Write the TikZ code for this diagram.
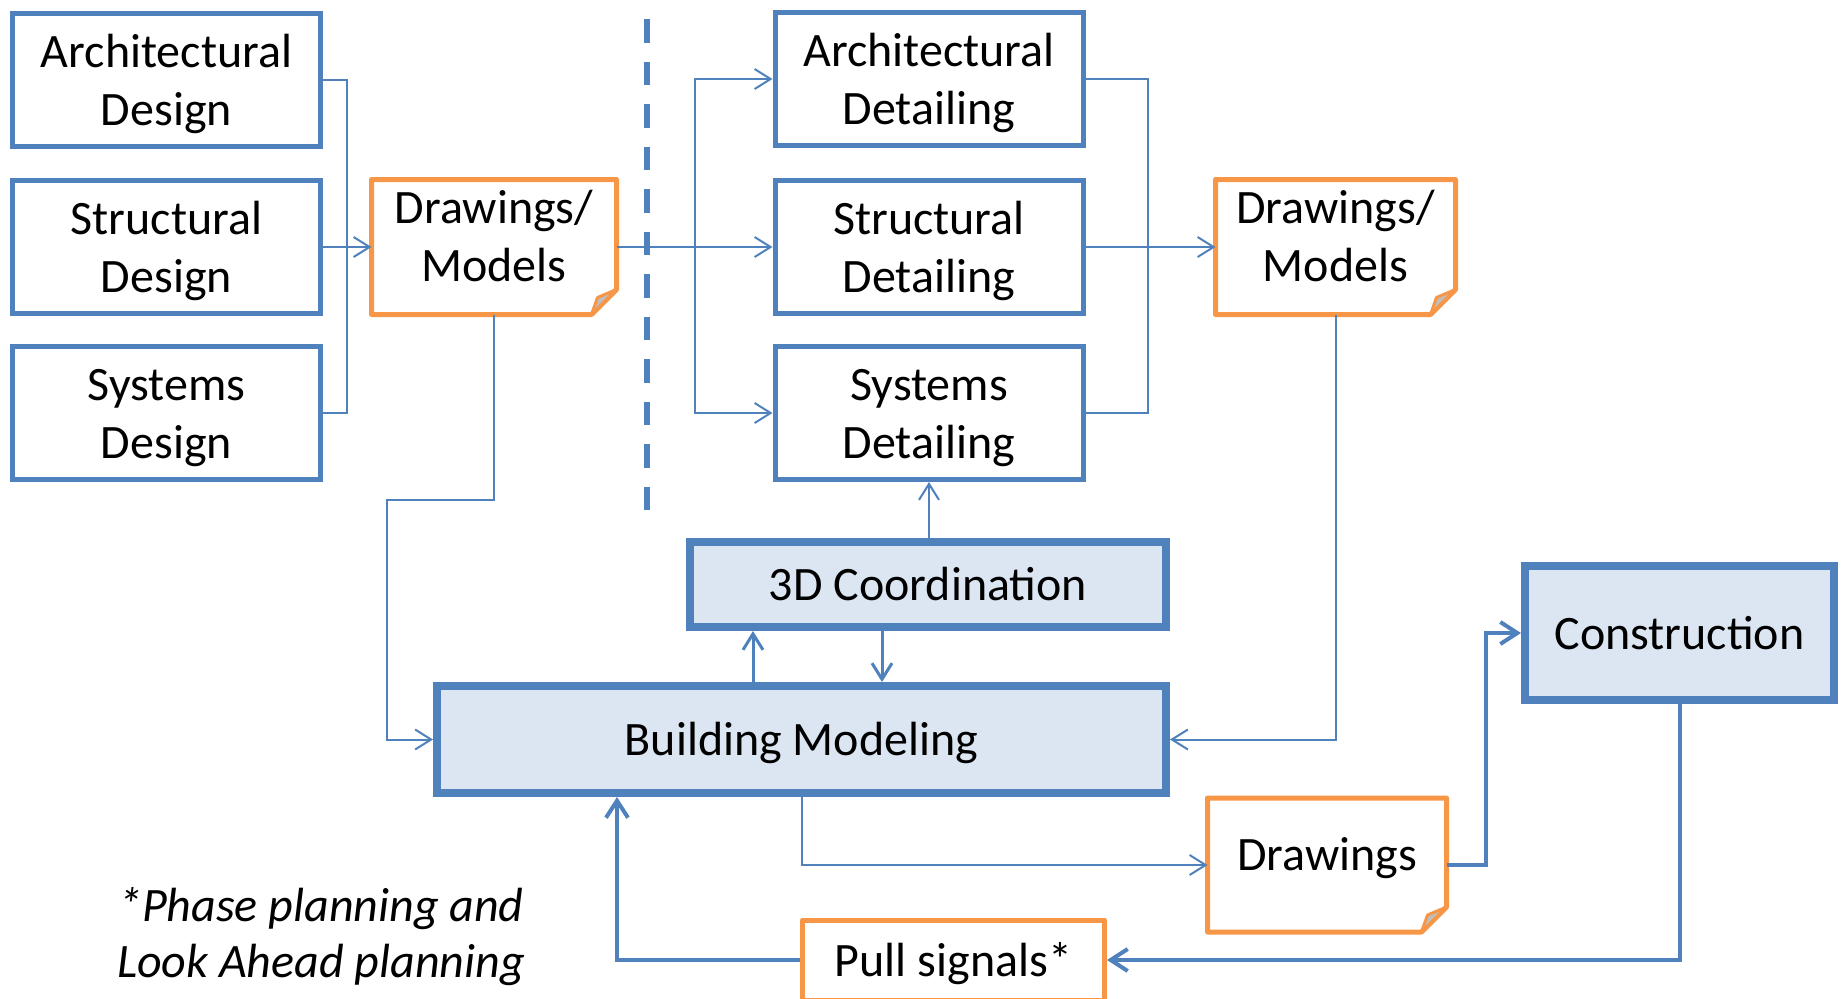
\documentclass[tikz,border=0pt]{standalone}
\usepackage{fontspec}
\setmainfont{Carlito}
\usetikzlibrary{arrows.meta}

\definecolor{boxblue}{HTML}{4F81BD}
\definecolor{docorange}{HTML}{F79646}
\definecolor{boxfill}{HTML}{DCE6F2}
\definecolor{foldgrey}{HTML}{BFBFBF}

% line struts: one for plain boxes, one for document shapes (text sits higher)
\newcommand{\tstrut}{\rule[-6.45pt]{0pt}{29pt}}
\newcommand{\dstrut}{\rule[-11.75pt]{0pt}{29pt}}

% document outline with a folded bottom-right corner
\newcommand{\foldedframe}[1]{%
  \draw[docline] (#1.north west) -- (#1.north east)
    -- ([yshift=12.5pt]#1.south east) -- ([xshift=-12.5pt]#1.south east)
    -- (#1.south west) -- cycle;
  \filldraw[draw=docorange, fill=foldgrey, line width=1.5pt, line join=round]
    ([yshift=12.5pt]#1.south east) -- ([xshift=-9.5pt,yshift=8.5pt]#1.south east)
    -- ([xshift=-12.5pt]#1.south east) -- cycle;}

\begin{document}
\begin{tikzpicture}[x=0.5pt,y=-0.5pt,
  every node/.style={font=\fontsize{24}{29}\selectfont, align=center, inner sep=0pt},
  task/.style={draw=boxblue, line width=2.5pt, fill=white,
    minimum width=154pt, minimum height=66.5pt},
  doc/.style={line width=2.5pt, outer sep=0pt},
  docline/.style={draw=docorange, line width=2.5pt, line join=round},
  hub/.style={draw=boxblue, line width=4pt, fill=boxfill},
  wire/.style={draw=boxblue, line width=1pt},
  link/.style={wire, -{Straight Barb[length=8pt,width=10pt]}},
  midlink/.style={draw=boxblue, line width=1.5pt, -{Straight Barb[length=8pt,width=10pt]}},
  heavylink/.style={draw=boxblue, line width=2pt, -{Straight Barb[length=8.5pt,width=11pt]}},
]
\useasboundingbox (0,0) rectangle (1843,998);

% phase boundary
\draw[boxblue, line width=3pt, dash pattern=on 11.75pt off 9.5pt] (647,-23.5) -- (647,511);

% design column
\node[task] (archd) at (166.5,80)  {\tstrut Architectural\\\tstrut Design};
\node[task] (strd)  at (166.5,247) {\tstrut Structural\\\tstrut Design};
\node[task] (sysd)  at (166.5,413) {\tstrut Systems\\\tstrut Design};

% first drawings/models package
\node[doc, minimum width=122.5pt, minimum height=67.5pt] (dm1) at (494,247)
  {\dstrut Drawings/\\\dstrut Models};
\foldedframe{dm1}

% detailing column
\node[task] (archdet) at (929,79)  {\tstrut Architectural\\\tstrut Detailing};
\node[task] (strdet)  at (929,247) {\tstrut Structural\\\tstrut Detailing};
\node[task] (sysdet)  at (929,413) {\tstrut Systems\\\tstrut Detailing};

% second drawings/models package
\node[doc, minimum width=120pt, minimum height=67.5pt] (dm2) at (1335.5,247)
  {\dstrut Drawings/\\\dstrut Models};
\foldedframe{dm2}

% modeling and coordination
\node[hub, minimum width=238pt, minimum height=42.5pt] (coord) at (928,584.5) {\tstrut 3D Coordination};
\node[hub, minimum width=364.5pt, minimum height=53.5pt] (bm) at (801.5,739.5) {\tstrut Building Modeling};
\node[hub, minimum width=154.5pt, minimum height=67pt] (constr) at (1679.5,633) {\tstrut Construction};

% shop drawings and pull signals
\node[doc, minimum width=119.5pt, minimum height=67pt] (drw) at (1327,865) {\dstrut Drawings};
\foldedframe{drw}
\node[draw=docorange, line width=2.5pt, line join=round, fill=white,
  minimum width=151pt, minimum height=40pt] (pull) at (953.5,960) {\tstrut Pull signals*};

% footnote
\node[font=\fontsize{24}{28}\selectfont\itshape] (note) at (321,936.5)
  {*Phase planning and\\Look Ahead planning};

% bend points
\coordinate (busL)  at (347,247);
\coordinate (busR)  at (695,247);
\coordinate (busR2) at (1148,247);
\coordinate (bendA) at (387,500);
\coordinate (upx)   at (753,0);
\coordinate (downx) at (882,0);
\coordinate (bendC) at (1486,0);
\coordinate (bendD) at (617,0);

% design -> drawings/models
\draw[wire] (archd.east) -| (busL);
\draw[wire] (sysd.east) -| (busL);
\draw[link] (strd.east) -- (dm1.west);

% drawings/models -> detailing
\draw[link] (dm1.east) -- (strdet.west);
\draw[link] (busR) |- (archdet.west);
\draw[link] (busR) |- (sysdet.west);

% detailing -> drawings/models
\draw[wire] (archdet.east) -| (busR2);
\draw[wire] (sysdet.east) -| (busR2);
\draw[link] (strdet.east) -- (dm2.west);

% packages into building modeling
\draw[link] (dm1.south) |- (bendA) |- (bm.west);
\draw[link] (dm2.south) |- (bm.east);

% coordination loop
\draw[midlink] (bm.north -| upx) -- (coord.south -| upx);
\draw[midlink] (coord.south -| downx) -- (bm.north -| downx);
\draw[link] (coord.north -| sysdet.south) -- (sysdet.south);

% delivery to site and pull signals back
\draw[link] (bm.south) |- (drw.west);
\draw[heavylink] (drw.east) -- (drw.east -| bendC) |- (constr.west);
\draw[heavylink] (constr.south) |- (pull.east);
\draw[heavylink] (pull.west) -| (bm.south -| bendD);
\end{tikzpicture}
\end{document}
